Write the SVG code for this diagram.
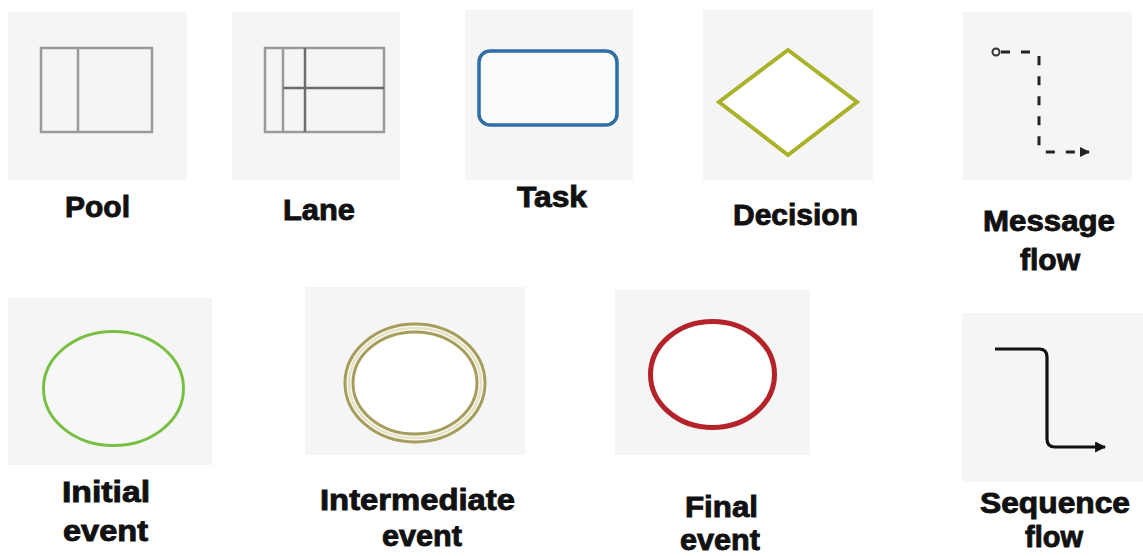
<svg xmlns="http://www.w3.org/2000/svg" width="1143" height="556" viewBox="0 0 1143 556">
  <style>
    .bg { fill: #f5f5f5; stroke: none; }
    .lbl { font-family: "Liberation Sans", Arial, sans-serif; font-weight: bold; font-size: 29px; fill: #111; stroke: #111; stroke-width: 0.9; text-anchor: middle; }
    .gray { fill: none; stroke: #9a9a9a; stroke-width: 2.5; }
    .dark { fill: none; stroke: #6e6e6e; stroke-width: 2.5; }
  </style>
  <defs>
    <marker id="arrow" viewBox="0 0 10 10" refX="9" refY="5" markerWidth="11" markerHeight="11" markerUnits="userSpaceOnUse" orient="auto">
      <path d="M0,0 L10,5 L0,10 Z" fill="#111"/>
    </marker>
    <marker id="arrowSmall" viewBox="0 0 10 10" refX="9" refY="5" markerWidth="10" markerHeight="10" markerUnits="userSpaceOnUse" orient="auto">
      <path d="M0,0 L10,5 L0,10 Z" fill="#222"/>
    </marker>
  </defs>
  <rect width="1143" height="556" fill="#ffffff"/>

  <g id="pool">
    <rect class="bg" x="8" y="12" width="179" height="168"/>
    <rect class="gray" x="41" y="48" width="111" height="84"/>
    <line class="gray" x1="78" y1="48" x2="78" y2="132"/>
    <text class="lbl" x="97.5" y="217" textLength="65" lengthAdjust="spacingAndGlyphs">Pool</text>
  </g>

  <g id="lane">
    <rect class="bg" x="232" y="12" width="168" height="168"/>
    <rect class="gray" x="265" y="48" width="119" height="84"/>
    <line class="gray" x1="283" y1="48" x2="283" y2="132"/>
    <line class="dark" x1="305" y1="48" x2="305" y2="132"/>
    <line class="dark" x1="283" y1="88" x2="384" y2="88"/>
    <text class="lbl" x="319" y="220" textLength="72" lengthAdjust="spacingAndGlyphs">Lane</text>
  </g>

  <g id="task">
    <rect class="bg" x="465" y="10" width="168" height="170"/>
    <rect x="479" y="51" width="138" height="74" rx="11" ry="11" fill="#fbfbfb" stroke="#2e6ea6" stroke-width="3.5"/>
    <text class="lbl" x="552" y="207" textLength="70" lengthAdjust="spacingAndGlyphs">Task</text>
  </g>

  <g id="decision">
    <rect class="bg" x="703" y="10" width="170" height="170"/>
    <polygon points="788,50 857,102 788,155 719,102" fill="#ffffff" stroke="#aab22a" stroke-width="4"/>
    <text class="lbl" x="795.5" y="225" textLength="125" lengthAdjust="spacingAndGlyphs">Decision</text>
  </g>

  <g id="message-flow">
    <rect class="bg" x="963" y="12" width="169" height="168"/>
    <text class="lbl" x="1049" y="231" textLength="132" lengthAdjust="spacingAndGlyphs">Message</text>
    <text class="lbl" x="1050" y="270" textLength="60" lengthAdjust="spacingAndGlyphs">flow</text>
  </g>

  <g id="initial-event">
    <rect class="bg" x="8" y="298" width="204" height="167"/>
    <ellipse cx="113.5" cy="388.5" rx="70" ry="57" fill="#f7f7f7" stroke="#78c043" stroke-width="3"/>
    <text class="lbl" x="106" y="502" textLength="88" lengthAdjust="spacingAndGlyphs">Initial</text>
    <text class="lbl" x="105.5" y="541" textLength="85" lengthAdjust="spacingAndGlyphs">event</text>
  </g>

  <g id="intermediate-event">
    <rect class="bg" x="305" y="287" width="220" height="168"/>
    <ellipse cx="415" cy="383" rx="70" ry="59" fill="#fbfbf6" stroke="#a69c5c" stroke-width="3"/>
    <ellipse cx="415" cy="383" rx="66" ry="55" fill="none" stroke="#e6e2c8" stroke-width="2.5"/>
    <ellipse cx="415" cy="383" rx="62" ry="51" fill="#ffffff" stroke="#a69c5c" stroke-width="3"/>
    <text class="lbl" x="417.5" y="510" textLength="195" lengthAdjust="spacingAndGlyphs">Intermediate</text>
    <text class="lbl" x="422" y="546" textLength="80" lengthAdjust="spacingAndGlyphs">event</text>
  </g>

  <g id="final-event">
    <rect class="bg" x="615" y="290" width="195" height="165"/>
    <ellipse cx="712.5" cy="374.5" rx="62" ry="53" fill="#ffffff" stroke="#b5232a" stroke-width="5"/>
    <text class="lbl" x="721.5" y="517" textLength="73" lengthAdjust="spacingAndGlyphs">Final</text>
    <text class="lbl" x="720" y="550" textLength="80" lengthAdjust="spacingAndGlyphs">event</text>
  </g>

  <g id="sequence-flow">
    <rect class="bg" x="962" y="313" width="181" height="169"/>
    <text class="lbl" x="1055" y="513" textLength="150" lengthAdjust="spacingAndGlyphs">Sequence</text>
    <text class="lbl" x="1054" y="547" textLength="58" lengthAdjust="spacingAndGlyphs">flow</text>
  </g>

  <g id="connectors">
    <circle cx="996" cy="52" r="3.5" fill="#f5f5f5" stroke="#333" stroke-width="2"/>
    <path d="M1000,52 H1034 Q1039,52 1039,58 V146 Q1039,152 1045,152 H1089" fill="none" stroke="#222" stroke-width="3" stroke-dasharray="9,11" stroke-dashoffset="-1" marker-end="url(#arrowSmall)"/>
    <path d="M995,349 H1039 Q1047,349 1047,357 V439 Q1047,447 1055,447 H1105" fill="none" stroke="#111" stroke-width="3.2" marker-end="url(#arrow)"/>
  </g>
</svg>
